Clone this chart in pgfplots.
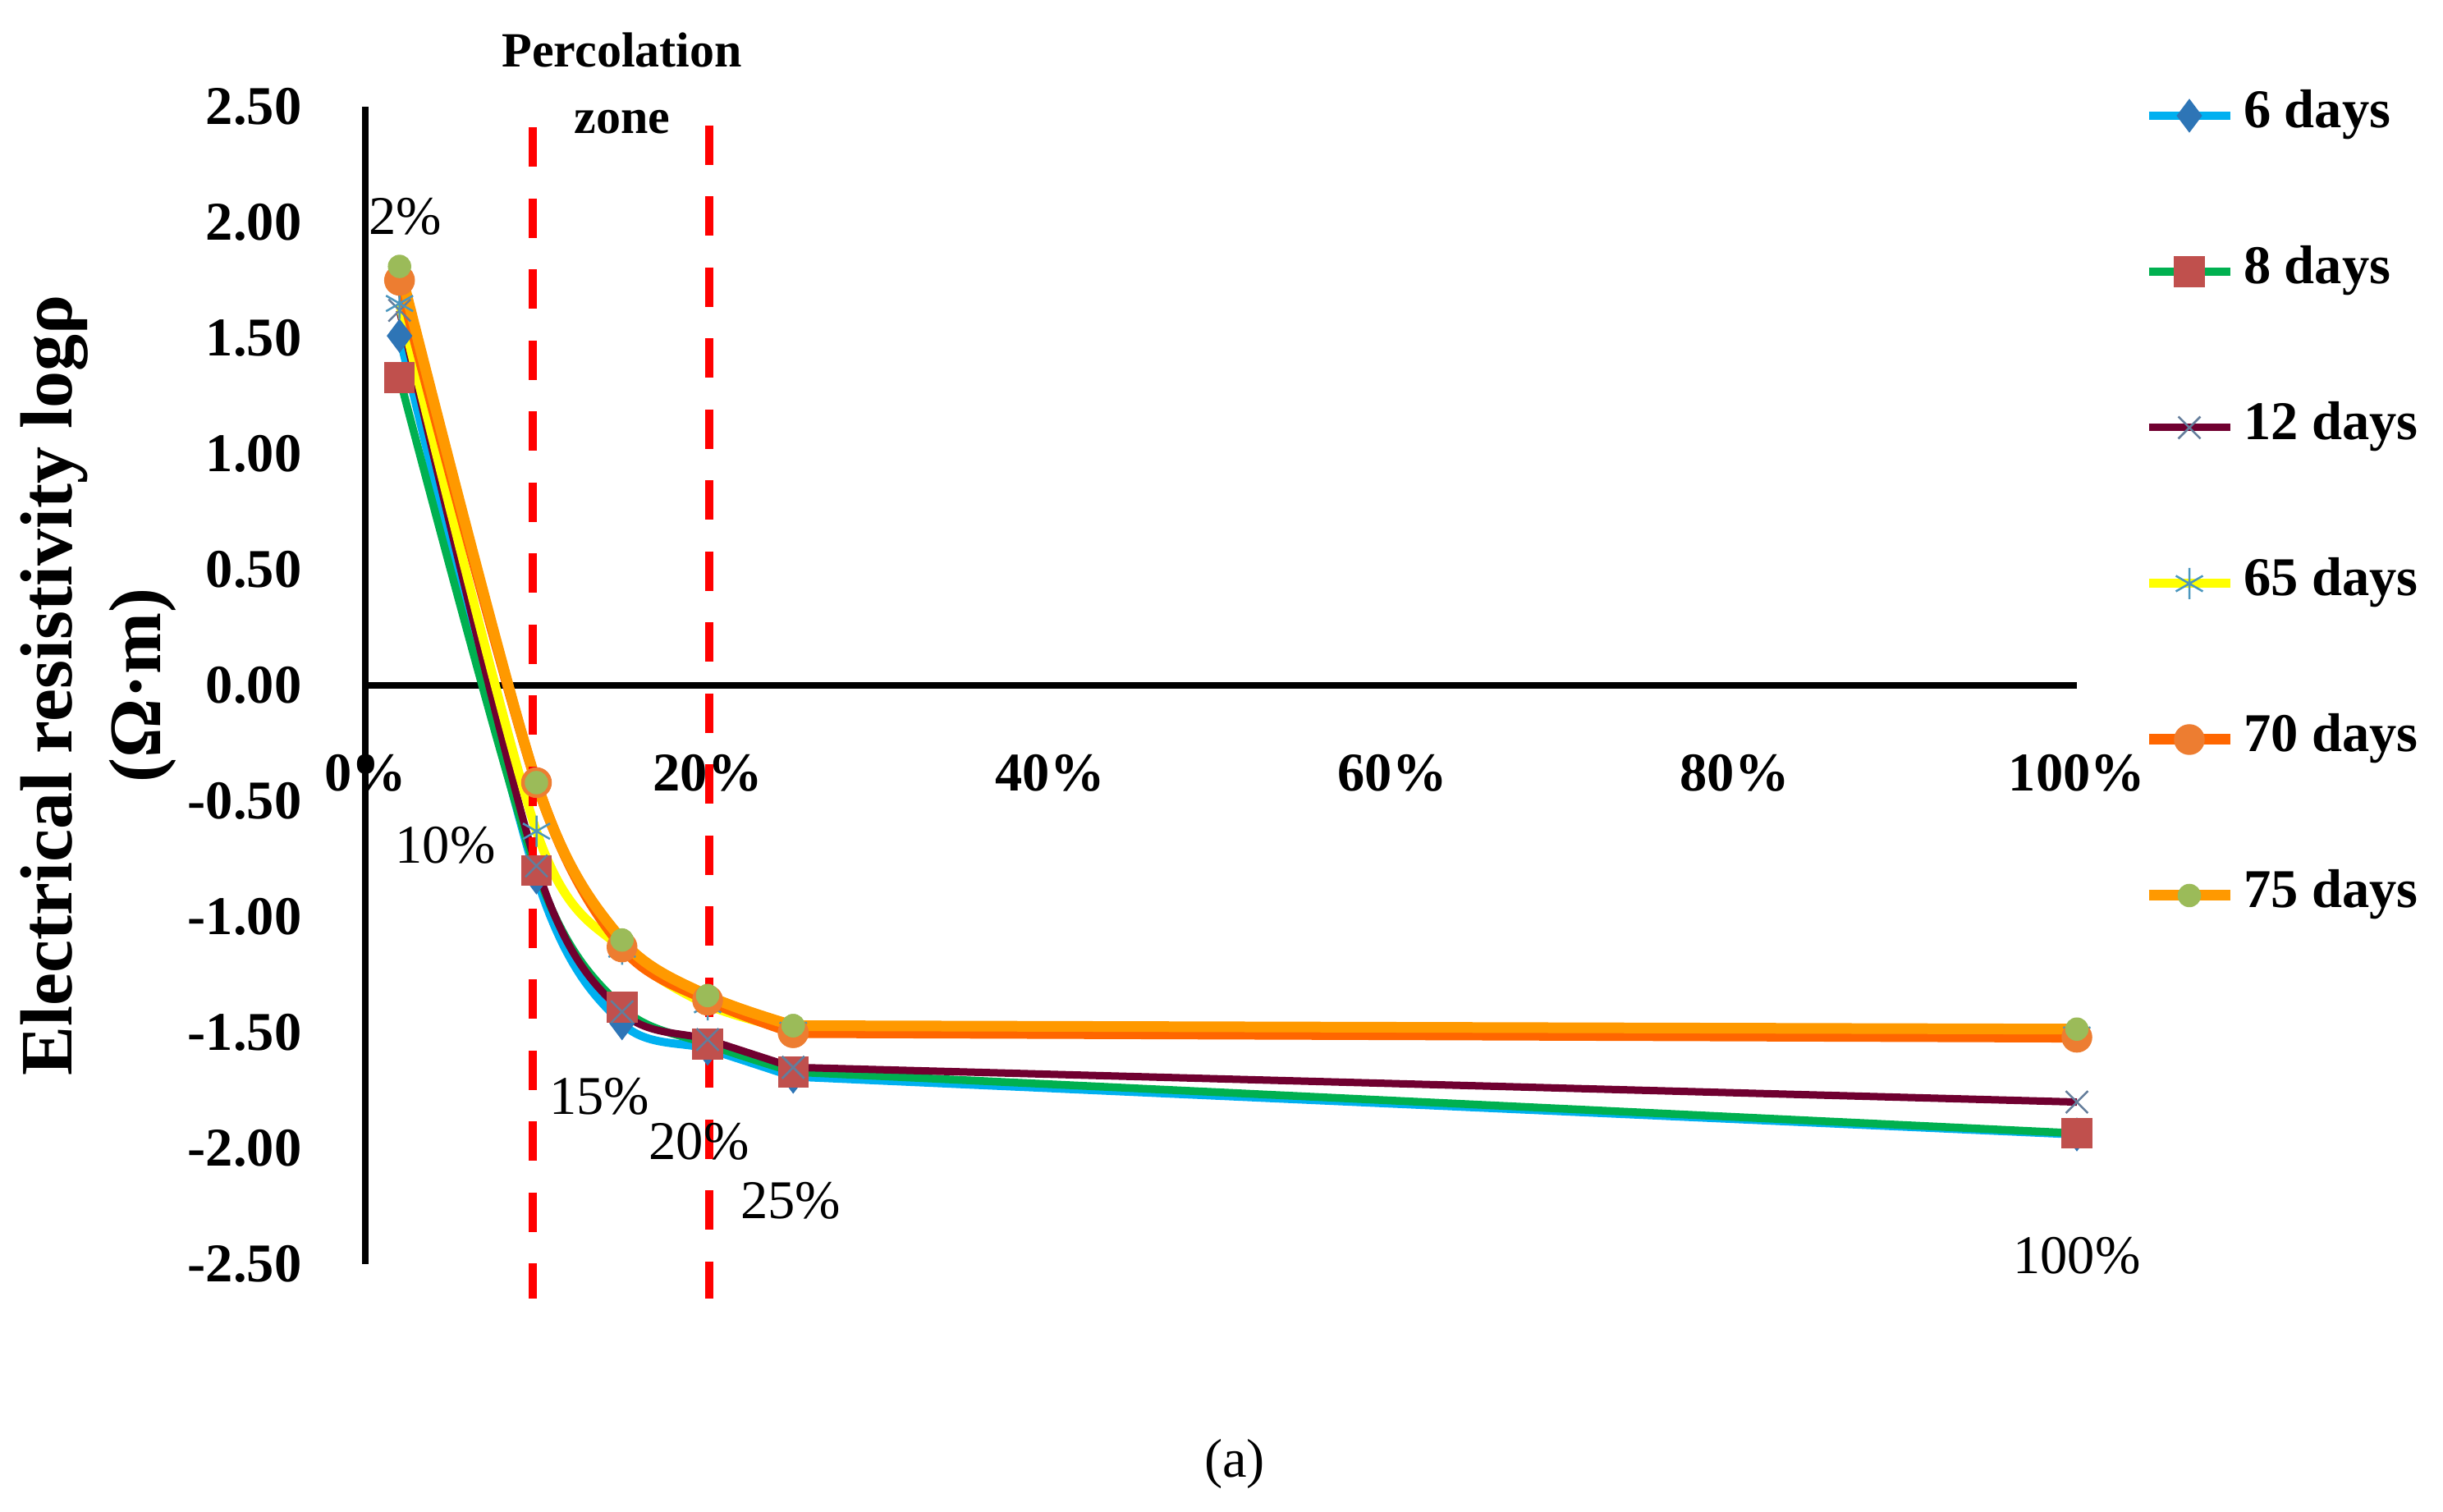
\documentclass[border=0pt]{standalone}
\usepackage{fontspec}
\setmainfont{Liberation Serif}
\usepackage{pgfplots}
\pgfplotsset{compat=1.18}
\definecolor{c6line}{RGB}{0,176,240}
\definecolor{c6mark}{RGB}{46,117,182}
\definecolor{c8line}{RGB}{0,176,80}
\definecolor{c8mark}{RGB}{192,80,77}
\definecolor{c12line}{RGB}{112,0,48}
\definecolor{c12mark}{RGB}{100,125,155}
\definecolor{c65line}{RGB}{255,255,0}
\definecolor{c65mark}{RGB}{75,150,190}
\definecolor{c70line}{RGB}{255,102,0}
\definecolor{c70mark}{RGB}{237,125,49}
\definecolor{c75line}{RGB}{255,153,0}
\definecolor{c75mark}{RGB}{155,187,89}
\newcommand{\tfont}{\fontsize{13.3}{16}\selectfont}
\pgfplotsset{
  s6/.style={color=c6line, line width=2pt, mark=diamond*, mark size=3.9pt,
    mark options={solid, fill=c6mark, draw=c6mark, line width=0.3pt}},
  s8/.style={color=c8line, line width=1.9pt, mark=square*, mark size=3.6pt,
    mark options={solid, fill=c8mark, draw=c8mark, line width=0.3pt}},
  s12/.style={color=c12line, line width=1.8pt, mark=x, mark size=3.8pt,
    mark options={solid, draw=c12mark, line width=0.5pt}},
  s65/.style={color=c65line, line width=2.2pt, mark=asterisk, mark size=3.8pt,
    mark options={solid, draw=c65mark, line width=0.5pt}},
  s70/.style={color=c70line, line width=2.6pt, mark=*, mark size=3.6pt,
    mark options={solid, fill=c70mark, draw=c70mark, line width=0.3pt}},
  s75/.style={color=c75line, line width=2.6pt, mark=*, mark size=2.7pt,
    mark options={solid, fill=c75mark, draw=c75mark, line width=0.3pt}},
}
\begin{document}
\begin{tikzpicture}
\useasboundingbox (0,0) rectangle (595.2pt,368.4pt);
\begin{axis}[
  at={(89pt,60.4pt)}, anchor=south west,
  scale only axis, width=417pt, height=282pt,
  xmin=0, xmax=100, ymin=-2.5, ymax=2.5,
  axis x line=middle, axis y line=left,
  axis line style={line width=1.5pt, -},
  hide obscured x ticks=false, hide obscured y ticks=false,
  clip=false,
  xtick={0,20,40,60,80,100},
  xticklabels={0\%,20\%,40\%,60\%,80\%,100\%},
  ytick={-2.5,-2,-1.5,-1,-0.5,0,0.5,1,1.5,2,2.5},
  major tick length=0pt,
  tick style={draw=none},
  /pgf/number format/assume math mode=true,
  xticklabel style={anchor=center, yshift=-21.4pt, font=\tfont\bfseries},
  yticklabel style={anchor=east, xshift=-12pt, font=\tfont\bfseries,
    /pgf/number format/fixed, /pgf/number format/fixed zerofill, /pgf/number format/precision=2},
  ylabel={Electrical resistivity logρ\\(Ω·m)},
  every axis y label/.style={at={(axis description cs:-0.156,0.5)}, rotate=90, anchor=center, align=center, font=\fontsize{18}{21.5}\selectfont\bfseries},
  legend style={at={(axis description cs:1,1)}, anchor=north west, xshift=16pt, yshift=4pt,
    draw=none, fill=none, font=\tfont\bfseries, row sep=26pt, inner sep=0pt,
    nodes={inner sep=0pt, text height=9pt, text depth=3pt}, column sep=2pt},
  legend cell align=left,
  legend image code/.code={\draw[mark repeat=2,mark phase=2] plot coordinates {(0pt,0pt)(9.9pt,0pt)(19.8pt,0pt)};},
]
\addplot[s6, smooth] coordinates {(2,1.51) (10,-0.83) (15,-1.46) (20,-1.57) (25,-1.69)};
\addlegendentry{6 days}
\addplot[s6, forget plot] coordinates {(25,-1.69) (100,-1.94)};
\addplot[s8, smooth] coordinates {(2,1.33) (10,-0.80) (15,-1.39) (20,-1.55) (25,-1.67)};
\addlegendentry{8 days}
\addplot[s8, forget plot] coordinates {(25,-1.67) (100,-1.935)};
\addplot[s12, smooth] coordinates {(2,1.62) (10,-0.78) (15,-1.41) (20,-1.53) (25,-1.65)};
\addlegendentry{12 days}
\addplot[s12, forget plot] coordinates {(25,-1.65) (100,-1.80)};
\addplot[s65, smooth] coordinates {(2,1.65) (10,-0.63) (15,-1.14) (20,-1.38) (25,-1.49)};
\addlegendentry{65 days}
\addplot[s65, forget plot] coordinates {(25,-1.49) (100,-1.51)};
\addplot[s70, smooth] coordinates {(2,1.75) (10,-0.42) (15,-1.13) (20,-1.36) (25,-1.50)};
\addlegendentry{70 days}
\addplot[s70, forget plot] coordinates {(25,-1.50) (100,-1.52)};
\addplot[s75, smooth] coordinates {(2,1.81) (10,-0.42) (15,-1.10) (20,-1.34) (25,-1.47)};
\addlegendentry{75 days}
\addplot[s75, forget plot] coordinates {(25,-1.47) (100,-1.485)};
\addplot[forget plot, color=red, line width=2pt, dash pattern=on 9.6pt off 7.7pt]
  coordinates {(9.8,2.41) (9.8,-2.65)};
\addplot[forget plot, color=red, line width=2pt, dash pattern=on 9.6pt off 7.7pt]
  coordinates {(20.1,2.42) (20.1,-2.65)};
\node[font=\tfont] at (axis cs:2.35,2.025) {2\%};
\node[font=\tfont] at (axis cs:4.68,-0.691) {10\%};
\node[font=\tfont] at (axis cs:13.67,-1.777) {15\%};
\node[font=\tfont] at (axis cs:19.5,-1.972) {20\%};
\node[font=\tfont] at (axis cs:24.85,-2.227) {25\%};
\node[font=\tfont] at (axis cs:100,-2.465) {100\%};
\node[align=center, font=\fontsize{12}{16.2}\selectfont\bfseries] at (axis cs:15,2.60) {Percolation\\zone};
\node[font=\tfont] at (axis cs:50.8,-3.365) {(a)};
\end{axis}
\end{tikzpicture}
\end{document}
